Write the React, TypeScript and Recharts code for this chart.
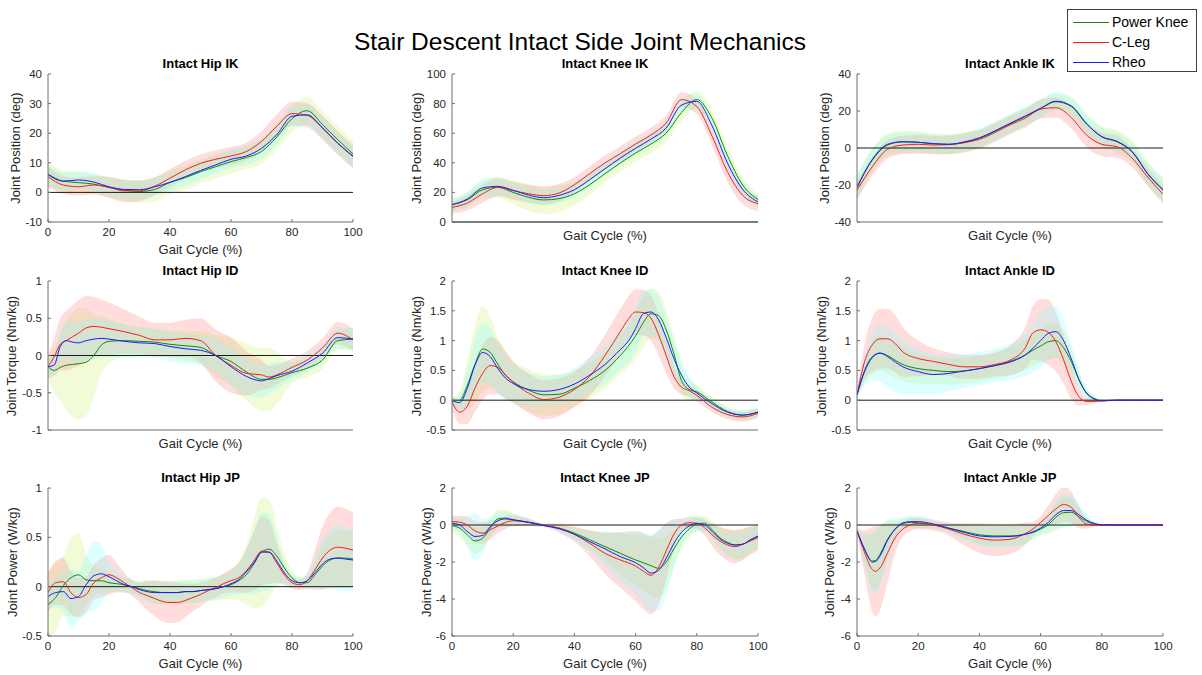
import React from 'react';
import { ComposedChart, Line, Area, XAxis, YAxis, ReferenceLine } from 'recharts';

// ---------- shared ----------
const SERIES_NAMES = ['Power Knee', 'C-Leg', 'Rheo'];
const GAIT_TICKS = [0, 20, 40, 60, 80, 100];
const MAIN_TITLE = 'Stair Descent Intact Side Joint Mechanics';

// ---------- Intact Hip IK ----------
const hipIK_x = [0, 5, 10, 15, 20, 25, 30, 35, 40, 45, 50, 55, 60, 65, 70, 75, 80, 85, 90, 95, 100];
const hipIK_pk = [6.2, 3.8, 3.3, 2.8, 1.7, 0.8, 0.3, 1.0, 3.4, 5.0, 7.0, 8.7, 10.4, 11.8, 13.8, 18.7, 24.9, 27.6, 22.9, 17.8, 13.0];
const hipIK_cl = [5.3, 2.5, 1.9, 2.5, 1.7, 0.5, 0.5, 2.1, 4.8, 7.6, 9.8, 11.2, 12.3, 13.8, 17.2, 22.3, 26.6, 26.0, 21.8, 16.6, 12.1];
const hipIK_rh = [6.0, 3.8, 4.2, 3.5, 1.9, 1.0, 0.9, 1.9, 3.4, 5.3, 7.4, 9.3, 11.2, 12.3, 14.9, 19.5, 25.7, 26.2, 21.8, 16.6, 12.3];
const hipIK_pkSd = [4, 3.5, 3.5, 3.5, 3.5, 3.5, 3.8, 4, 4, 4, 4, 4, 4, 4, 4.2, 4.5, 4.5, 4.5, 4.5, 4.5, 4.5];
const hipIK_clSd = [3.5, 3, 3, 3, 3.5, 3.8, 3.5, 3, 3, 3, 3, 3, 3, 3, 3.5, 4, 4, 4, 4, 4, 4];
const hipIK_rhSd = [3.5, 3, 3, 3, 3, 3, 3, 3, 3, 3, 3, 3, 3, 3, 3.5, 3.5, 3.5, 3.5, 3.5, 3.5, 3.5];
const hipIK_yTicks = [-10, 0, 10, 20, 30, 40];

// ---------- Intact Knee IK ----------
const kneeIK_x = [0, 5, 10, 15, 20, 25, 30, 35, 40, 45, 50, 55, 60, 65, 70, 75, 80, 85, 90, 95, 100];
const kneeIK_pk = [11.7, 15.0, 21.8, 23.4, 20.0, 16.7, 14.9, 15.8, 19.1, 25.2, 32.7, 39.9, 46.6, 52.7, 60.1, 74.0, 82.7, 70.0, 45.0, 25.0, 15.1];
const kneeIK_cl = [9.9, 12.8, 19.1, 23.4, 21.2, 19.1, 17.8, 19.6, 25.2, 32.7, 39.9, 46.2, 52.7, 58.8, 66.9, 82.7, 78.0, 58.0, 34.0, 18.0, 12.4];
const kneeIK_rh = [11.7, 15.5, 23.0, 24.1, 21.4, 18.2, 16.4, 18.0, 21.8, 28.6, 36.0, 43.2, 49.8, 56.0, 63.5, 79.0, 81.5, 65.0, 40.0, 22.0, 13.5];
const kneeIK_pkSd = [4, 5, 6, 7, 8, 9, 9.5, 9, 8, 7, 6, 6, 6, 6, 6, 6, 6, 6, 6, 5, 4];
const kneeIK_clSd = [4, 5, 6, 6, 6, 6, 6, 6, 5, 5, 5, 5, 5, 5, 5, 5, 5, 6, 7, 6, 5];
const kneeIK_rhSd = [4, 5, 6, 6, 5, 5, 5, 5, 5, 5, 5, 5, 5, 5, 5, 5, 5, 5, 5, 5, 4];
const kneeIK_yTicks = [0, 20, 40, 60, 80, 100];

// ---------- Intact Ankle IK ----------
const ankleIK_x = [0, 5, 10, 15, 20, 25, 30, 35, 40, 45, 50, 55, 60, 65, 70, 75, 80, 85, 90, 95, 100];
const ankleIK_pk = [-21.0, -6.5, 1.6, 3.3, 3.1, 2.2, 2.0, 2.9, 5.2, 8.9, 13.0, 17.0, 21.2, 25.0, 22.5, 13.0, 6.2, 3.6, -2.0, -13.8, -22.4];
const ankleIK_cl = [-22.8, -10.1, -0.7, 1.6, 2.0, 1.6, 1.8, 2.9, 4.7, 8.3, 12.5, 16.1, 21.0, 21.8, 16.5, 7.0, 2.0, 0.7, -5.6, -15.7, -25.0];
const ankleIK_rh = [-21.4, -6.2, 2.0, 3.4, 3.1, 2.4, 2.0, 3.3, 5.5, 9.2, 13.3, 17.3, 21.5, 25.3, 22.8, 13.3, 6.0, 3.4, -2.3, -14.0, -22.8];
const ankleIK_pkSd = [6, 6, 6, 6, 6, 5.5, 5.5, 5.5, 5, 5, 5, 5, 5, 4.5, 4.5, 5, 5.5, 6, 6, 6, 6];
const ankleIK_clSd = [5, 5, 5, 5, 5, 5, 5, 5, 5, 5, 5, 5, 5, 5.5, 6, 6.5, 6.5, 6, 5, 5, 5];
const ankleIK_rhSd = [7, 6, 5, 5, 5, 5, 5, 5, 5, 5, 5, 5, 5, 5, 5, 5, 5, 5, 5, 6, 7];
const ankleIK_yTicks = [-40, -20, 0, 20, 40];

// ---------- Intact Hip ID ----------
const hipID_x = [0, 2, 4, 6, 8, 10, 12.5, 15, 17.5, 20, 25, 30, 35, 40, 45, 50, 55, 60, 65, 70, 72.5, 75, 80, 85, 90, 95, 100];
const hipID_pk = [-0.15, -0.2, -0.16, -0.13, -0.12, -0.11, -0.09, 0.0, 0.14, 0.19, 0.2, 0.19, 0.18, 0.15, 0.13, 0.11, 0.0, -0.08, -0.22, -0.32, -0.32, -0.3, -0.23, -0.17, -0.06, 0.2, 0.22];
const hipID_cl = [-0.15, -0.02, 0.15, 0.2, 0.25, 0.3, 0.37, 0.39, 0.38, 0.36, 0.32, 0.27, 0.21, 0.21, 0.23, 0.2, 0.0, -0.13, -0.24, -0.26, -0.29, -0.26, -0.16, -0.06, 0.1, 0.3, 0.21];
const hipID_rh = [-0.15, -0.13, 0.12, 0.2, 0.18, 0.17, 0.2, 0.22, 0.23, 0.22, 0.19, 0.17, 0.16, 0.12, 0.09, 0.07, 0.0, -0.15, -0.28, -0.34, -0.31, -0.27, -0.21, -0.1, 0.03, 0.24, 0.22];
const hipID_pkSd = [0.15, 0.3, 0.45, 0.6, 0.7, 0.75, 0.72, 0.55, 0.38, 0.3, 0.22, 0.2, 0.18, 0.18, 0.2, 0.22, 0.28, 0.33, 0.38, 0.42, 0.42, 0.35, 0.15, 0.12, 0.12, 0.12, 0.15];
const hipID_clSd = [0.15, 0.25, 0.35, 0.4, 0.42, 0.44, 0.43, 0.4, 0.37, 0.35, 0.3, 0.25, 0.23, 0.23, 0.25, 0.3, 0.35, 0.37, 0.3, 0.2, 0.15, 0.13, 0.12, 0.12, 0.13, 0.15, 0.15];
const hipID_rhSd = [0.12, 0.15, 0.2, 0.25, 0.27, 0.28, 0.28, 0.27, 0.26, 0.25, 0.22, 0.2, 0.2, 0.2, 0.2, 0.2, 0.22, 0.25, 0.25, 0.22, 0.2, 0.18, 0.12, 0.12, 0.12, 0.14, 0.15];
const hipID_yTicks = [-1, -0.5, 0, 0.5, 1];

// ---------- Intact Knee ID ----------
const kneeID_x = [0, 2.5, 5, 7.5, 10, 12.5, 15, 17.5, 20, 25, 30, 35, 40, 45, 50, 55, 57.5, 60, 62.5, 65, 67.5, 70, 72.5, 75, 77.5, 80, 85, 90, 95, 100];
const kneeID_pk = [-0.01, 0.0, 0.25, 0.6, 0.86, 0.8, 0.6, 0.42, 0.31, 0.17, 0.09, 0.1, 0.2, 0.33, 0.5, 0.75, 0.9, 1.08, 1.3, 1.45, 1.42, 1.18, 0.78, 0.33, 0.18, 0.14, -0.03, -0.19, -0.25, -0.2];
const kneeID_cl = [-0.03, -0.2, -0.1, 0.2, 0.45, 0.58, 0.55, 0.42, 0.3, 0.12, 0.01, 0.05, 0.18, 0.4, 0.75, 1.15, 1.35, 1.48, 1.47, 1.38, 1.1, 0.75, 0.4, 0.22, 0.16, 0.08, -0.12, -0.24, -0.28, -0.22];
const kneeID_rh = [-0.01, -0.04, 0.2, 0.59, 0.8, 0.73, 0.53, 0.37, 0.28, 0.18, 0.15, 0.18, 0.27, 0.42, 0.6, 0.85, 0.98, 1.2, 1.45, 1.48, 1.35, 1.05, 0.7, 0.42, 0.22, 0.12, -0.06, -0.2, -0.25, -0.2];
const kneeID_pkSd = [0.05, 0.15, 0.4, 0.65, 0.72, 0.6, 0.45, 0.38, 0.35, 0.35, 0.35, 0.33, 0.3, 0.3, 0.3, 0.32, 0.35, 0.38, 0.42, 0.42, 0.4, 0.35, 0.3, 0.25, 0.18, 0.12, 0.08, 0.08, 0.08, 0.08];
const kneeID_clSd = [0.1, 0.2, 0.3, 0.4, 0.45, 0.48, 0.45, 0.4, 0.35, 0.33, 0.33, 0.32, 0.3, 0.32, 0.35, 0.38, 0.38, 0.38, 0.38, 0.38, 0.35, 0.3, 0.2, 0.12, 0.1, 0.1, 0.08, 0.08, 0.08, 0.08];
const kneeID_rhSd = [0.05, 0.12, 0.3, 0.45, 0.5, 0.48, 0.42, 0.36, 0.32, 0.28, 0.25, 0.25, 0.27, 0.3, 0.32, 0.33, 0.35, 0.38, 0.38, 0.38, 0.38, 0.35, 0.3, 0.25, 0.18, 0.12, 0.08, 0.08, 0.08, 0.08];
const kneeID_yTicks = [-0.5, 0, 0.5, 1, 1.5, 2];

// ---------- Intact Ankle ID ----------
const ankleID_x = [0, 2.5, 5, 7.5, 10, 12.5, 15, 20, 25, 30, 35, 40, 45, 50, 55, 57.5, 60, 62.5, 65, 67.5, 70, 72.5, 75, 77.5, 80, 85, 90, 95, 100];
const ankleID_pk = [0.09, 0.48, 0.71, 0.79, 0.75, 0.67, 0.6, 0.53, 0.5, 0.48, 0.49, 0.53, 0.58, 0.65, 0.76, 0.84, 0.91, 0.98, 1.0, 0.88, 0.65, 0.35, 0.12, 0.03, -0.01, 0, 0, 0, 0];
const ankleID_cl = [0.09, 0.65, 0.93, 1.03, 1.03, 0.95, 0.81, 0.7, 0.65, 0.6, 0.56, 0.56, 0.6, 0.67, 0.88, 1.13, 1.18, 1.14, 0.98, 0.68, 0.32, 0.06, -0.02, -0.02, -0.01, 0, 0, 0, 0];
const ankleID_rh = [0.09, 0.5, 0.73, 0.79, 0.73, 0.64, 0.56, 0.48, 0.43, 0.45, 0.49, 0.53, 0.58, 0.64, 0.76, 0.87, 1.0, 1.12, 1.15, 1.0, 0.7, 0.35, 0.12, 0.02, -0.01, 0, 0, 0, 0];
const ankleID_pkSd = [0.05, 0.2, 0.28, 0.3, 0.3, 0.3, 0.28, 0.25, 0.23, 0.22, 0.22, 0.22, 0.22, 0.23, 0.25, 0.27, 0.28, 0.3, 0.3, 0.28, 0.22, 0.15, 0.08, 0.04, 0.02, 0.01, 0.01, 0.01, 0.01];
const ankleID_clSd = [0.05, 0.3, 0.45, 0.5, 0.5, 0.48, 0.42, 0.3, 0.22, 0.2, 0.2, 0.2, 0.2, 0.25, 0.35, 0.45, 0.52, 0.55, 0.5, 0.4, 0.3, 0.15, 0.06, 0.03, 0.02, 0.01, 0.01, 0.01, 0.01];
const ankleID_rhSd = [0.05, 0.25, 0.4, 0.48, 0.5, 0.5, 0.45, 0.38, 0.33, 0.3, 0.28, 0.28, 0.28, 0.3, 0.35, 0.4, 0.45, 0.45, 0.42, 0.35, 0.25, 0.15, 0.08, 0.04, 0.02, 0.01, 0.01, 0.01, 0.01];
const ankleID_yTicks = [-0.5, 0, 0.5, 1, 1.5, 2];

// ---------- Intact Hip JP ----------
const hipJP_x = [0, 2.5, 5, 7.5, 10, 12.5, 15, 17.5, 20, 22.5, 25, 27.5, 30, 32.5, 35, 37.5, 40, 42.5, 45, 47.5, 50, 52.5, 55, 57.5, 60, 62.5, 65, 67.5, 70, 72.5, 75, 77.5, 80, 82.5, 85, 87.5, 90, 92.5, 95, 97.5, 100];
const hipJP_pk = [-0.18, -0.11, 0.01, 0.09, 0.12, 0.07, 0.06, 0.06, 0.04, 0.03, 0.02, 0.0, -0.02, -0.04, -0.05, -0.06, -0.06, -0.06, -0.05, -0.05, -0.04, -0.03, -0.02, 0.0, 0.02, 0.06, 0.12, 0.23, 0.35, 0.38, 0.31, 0.19, 0.09, 0.04, 0.04, 0.12, 0.21, 0.27, 0.29, 0.29, 0.28];
const hipJP_cl = [-0.06, 0.04, 0.05, -0.06, -0.11, -0.08, 0.04, 0.09, 0.12, 0.09, 0.04, -0.01, -0.06, -0.09, -0.12, -0.15, -0.16, -0.16, -0.14, -0.11, -0.08, -0.04, -0.01, 0.03, 0.06, 0.09, 0.16, 0.26, 0.36, 0.35, 0.24, 0.12, 0.04, 0.02, 0.06, 0.17, 0.29, 0.37, 0.4, 0.39, 0.37];
const hipJP_rh = [-0.1, -0.06, -0.05, -0.12, -0.1, 0.02, 0.11, 0.13, 0.1, 0.06, 0.02, 0.0, -0.03, -0.05, -0.06, -0.06, -0.06, -0.06, -0.05, -0.05, -0.04, -0.03, -0.02, 0.0, 0.03, 0.07, 0.15, 0.24, 0.35, 0.35, 0.26, 0.14, 0.06, 0.04, 0.06, 0.14, 0.23, 0.28, 0.29, 0.28, 0.27];
const hipJP_pkSd = [0.33, 0.35, 0.3, 0.4, 0.42, 0.25, 0.15, 0.12, 0.1, 0.08, 0.07, 0.07, 0.08, 0.1, 0.12, 0.12, 0.12, 0.12, 0.12, 0.12, 0.12, 0.12, 0.12, 0.13, 0.15, 0.2, 0.3, 0.45, 0.55, 0.5, 0.3, 0.15, 0.08, 0.06, 0.06, 0.12, 0.2, 0.25, 0.28, 0.28, 0.28];
const hipJP_clSd = [0.2, 0.22, 0.24, 0.22, 0.2, 0.18, 0.18, 0.2, 0.2, 0.15, 0.1, 0.08, 0.1, 0.15, 0.18, 0.2, 0.21, 0.2, 0.17, 0.14, 0.12, 0.1, 0.1, 0.1, 0.12, 0.15, 0.22, 0.3, 0.35, 0.32, 0.2, 0.1, 0.06, 0.05, 0.08, 0.2, 0.32, 0.38, 0.41, 0.4, 0.38];
const hipJP_rhSd = [0.12, 0.15, 0.2, 0.3, 0.25, 0.3, 0.35, 0.3, 0.15, 0.1, 0.08, 0.07, 0.08, 0.1, 0.11, 0.11, 0.11, 0.11, 0.11, 0.11, 0.11, 0.11, 0.11, 0.11, 0.12, 0.15, 0.22, 0.32, 0.4, 0.38, 0.25, 0.12, 0.06, 0.05, 0.07, 0.15, 0.25, 0.3, 0.33, 0.33, 0.3];
const hipJP_yTicks = [-0.5, 0, 0.5, 1];

// ---------- Intact Knee JP ----------
const kneeJP_x = [0, 2.5, 5, 7.5, 10, 12.5, 15, 17.5, 20, 25, 30, 35, 40, 45, 50, 55, 60, 62.5, 65, 67.5, 70, 72.5, 75, 77.5, 80, 82.5, 85, 87.5, 90, 92.5, 95, 97.5, 100];
const kneeJP_pk = [-0.03, -0.17, -0.53, -0.86, -0.72, -0.17, 0.33, 0.37, 0.28, 0.14, -0.03, -0.17, -0.44, -0.8, -1.17, -1.53, -1.89, -2.04, -2.2, -2.34, -2.0, -1.3, -0.65, -0.22, 0.05, 0.1, -0.26, -0.68, -0.93, -1.08, -1.04, -0.8, -0.59];
const kneeJP_cl = [0.19, 0.15, 0.0, -0.32, -0.44, -0.26, -0.05, 0.14, 0.23, 0.15, 0.0, -0.17, -0.5, -0.99, -1.53, -1.89, -2.22, -2.49, -2.72, -2.3, -1.4, -0.5, 0.0, 0.12, 0.1, -0.14, -0.53, -0.86, -1.08, -1.17, -1.04, -0.86, -0.68];
const kneeJP_rh = [0.1, 0.0, -0.35, -0.62, -0.57, -0.08, 0.23, 0.33, 0.28, 0.15, -0.03, -0.2, -0.5, -0.9, -1.29, -1.71, -2.04, -2.3, -2.6, -2.45, -1.8, -1.0, -0.4, -0.05, 0.08, 0.0, -0.35, -0.75, -0.99, -1.08, -1.04, -0.8, -0.62];
const kneeJP_pkSd = [0.4, 0.5, 0.6, 0.7, 0.6, 0.5, 0.5, 0.45, 0.35, 0.2, 0.08, 0.15, 0.3, 0.5, 0.8, 1.1, 1.35, 1.5, 1.6, 1.6, 1.4, 1.0, 0.6, 0.45, 0.4, 0.4, 0.45, 0.6, 0.7, 0.8, 0.8, 0.75, 0.7];
const kneeJP_clSd = [0.3, 0.35, 0.45, 0.55, 0.6, 0.5, 0.4, 0.35, 0.3, 0.2, 0.08, 0.25, 0.4, 0.7, 1.1, 1.5, 1.9, 2.05, 2.1, 2.0, 1.5, 0.8, 0.35, 0.3, 0.3, 0.4, 0.6, 0.75, 0.85, 0.9, 0.85, 0.75, 0.7];
const kneeJP_rhSd = [0.3, 0.4, 0.8, 1.3, 0.9, 0.5, 0.45, 0.4, 0.3, 0.2, 0.08, 0.15, 0.3, 0.55, 0.9, 1.3, 1.7, 1.9, 2.1, 2.2, 1.9, 1.3, 0.7, 0.5, 0.4, 0.35, 0.4, 0.5, 0.6, 0.7, 0.7, 0.6, 0.55];
const kneeJP_yTicks = [-6, -4, -2, 0, 2];

// ---------- Intact Ankle JP ----------
const ankleJP_x = [0, 2.5, 5, 6, 7.5, 10, 12.5, 15, 17.5, 20, 25, 30, 35, 40, 45, 50, 55, 57.5, 60, 62.5, 65, 67.5, 70, 72.5, 75, 77.5, 80, 85, 90, 95, 100];
const ankleJP_pk = [-0.31, -1.32, -1.95, -1.93, -1.59, -0.77, -0.22, 0.09, 0.14, 0.12, 0.01, -0.17, -0.35, -0.53, -0.59, -0.59, -0.5, -0.4, -0.22, 0.01, 0.42, 0.67, 0.69, 0.45, 0.2, 0.05, 0.01, 0, 0, 0, 0];
const ankleJP_cl = [-0.31, -1.5, -2.41, -2.5, -2.32, -1.5, -0.68, -0.22, 0.01, 0.09, 0, -0.22, -0.5, -0.71, -0.82, -0.77, -0.46, -0.22, 0.14, 0.51, 0.87, 1.11, 0.96, 0.42, 0.05, 0, 0, 0, 0, 0, 0];
const ankleJP_rh = [-0.31, -1.32, -2.0, -1.98, -1.68, -0.82, -0.22, 0.11, 0.18, 0.18, 0.05, -0.17, -0.4, -0.59, -0.64, -0.62, -0.5, -0.37, -0.17, 0.14, 0.56, 0.78, 0.78, 0.56, 0.27, 0.09, 0.01, 0, 0, 0, 0];
const ankleJP_pkSd = [0.1, 0.8, 1.5, 1.6, 1.5, 1.0, 0.5, 0.3, 0.3, 0.3, 0.2, 0.2, 0.35, 0.5, 0.55, 0.55, 0.5, 0.4, 0.35, 0.5, 0.7, 0.8, 0.75, 0.5, 0.25, 0.1, 0.05, 0.02, 0.02, 0.02, 0.02];
const ankleJP_clSd = [0.15, 1.2, 2.3, 2.45, 2.3, 1.6, 0.8, 0.4, 0.35, 0.3, 0.3, 0.35, 0.6, 0.8, 0.85, 0.8, 0.6, 0.4, 0.35, 0.55, 0.8, 0.95, 0.85, 0.6, 0.25, 0.1, 0.05, 0.02, 0.02, 0.02, 0.02];
const ankleJP_rhSd = [0.1, 0.8, 1.6, 1.7, 1.6, 1.1, 0.55, 0.3, 0.3, 0.3, 0.2, 0.25, 0.4, 0.55, 0.6, 0.6, 0.5, 0.4, 0.35, 0.5, 0.75, 0.9, 0.85, 0.55, 0.3, 0.12, 0.05, 0.02, 0.02, 0.02, 0.02];
const ankleJP_yTicks = [-6, -4, -2, 0, 2];

// ---------- panel table (built from the arrays above) ----------
const PANELS = [
  { title: 'Intact Hip IK', x: hipIK_x, pk: hipIK_pk, cl: hipIK_cl, rh: hipIK_rh, pkSd: hipIK_pkSd, clSd: hipIK_clSd, rhSd: hipIK_rhSd, yTicks: hipIK_yTicks, yLabel: 'Joint Position (deg)', showX: true },
  { title: 'Intact Knee IK', x: kneeIK_x, pk: kneeIK_pk, cl: kneeIK_cl, rh: kneeIK_rh, pkSd: kneeIK_pkSd, clSd: kneeIK_clSd, rhSd: kneeIK_rhSd, yTicks: kneeIK_yTicks, yLabel: 'Joint Position (deg)', showX: false },
  { title: 'Intact Ankle IK', x: ankleIK_x, pk: ankleIK_pk, cl: ankleIK_cl, rh: ankleIK_rh, pkSd: ankleIK_pkSd, clSd: ankleIK_clSd, rhSd: ankleIK_rhSd, yTicks: ankleIK_yTicks, yLabel: 'Joint Position (deg)', showX: false },
  { title: 'Intact Hip ID', x: hipID_x, pk: hipID_pk, cl: hipID_cl, rh: hipID_rh, pkSd: hipID_pkSd, clSd: hipID_clSd, rhSd: hipID_rhSd, yTicks: hipID_yTicks, yLabel: 'Joint Torque (Nm/kg)', showX: false },
  { title: 'Intact Knee ID', x: kneeID_x, pk: kneeID_pk, cl: kneeID_cl, rh: kneeID_rh, pkSd: kneeID_pkSd, clSd: kneeID_clSd, rhSd: kneeID_rhSd, yTicks: kneeID_yTicks, yLabel: 'Joint Torque (Nm/kg)', showX: false },
  { title: 'Intact Ankle ID', x: ankleID_x, pk: ankleID_pk, cl: ankleID_cl, rh: ankleID_rh, pkSd: ankleID_pkSd, clSd: ankleID_clSd, rhSd: ankleID_rhSd, yTicks: ankleID_yTicks, yLabel: 'Joint Torque (Nm/kg)', showX: false },
  { title: 'Intact Hip JP', x: hipJP_x, pk: hipJP_pk, cl: hipJP_cl, rh: hipJP_rh, pkSd: hipJP_pkSd, clSd: hipJP_clSd, rhSd: hipJP_rhSd, yTicks: hipJP_yTicks, yLabel: 'Joint Power (W/kg)', showX: true },
  { title: 'Intact Knee JP', x: kneeJP_x, pk: kneeJP_pk, cl: kneeJP_cl, rh: kneeJP_rh, pkSd: kneeJP_pkSd, clSd: kneeJP_clSd, rhSd: kneeJP_rhSd, yTicks: kneeJP_yTicks, yLabel: 'Joint Power (W/kg)', showX: true },
  { title: 'Intact Ankle JP', x: ankleJP_x, pk: ankleJP_pk, cl: ankleJP_cl, rh: ankleJP_rh, pkSd: ankleJP_pkSd, clSd: ankleJP_clSd, rhSd: ankleJP_rhSd, yTicks: ankleJP_yTicks, yLabel: 'Joint Power (W/kg)', showX: true },
];

// ---------- layout / style ----------
const FONT = '"Liberation Sans", Arial, Helvetica, sans-serif';
const TEXT = '#262626';
const AXIS = '#6e6e6e';
const COLORS = { pk: '#0b8a0b', cl: '#ff1a1a', rh: '#1a1aff' };
const BANDS = { pk: '#c8f064', cl: '#ff7878', rh: '#78ffff' };
const COL_L = [48, 452, 857];
const COL_R = [353, 758, 1163];
const ROW_T = [74, 281, 488];
const ROW_B = [222, 430, 636];
const YLABEL_GAP = [32, 35, 32, 36, 35, 35, 35, 25, 27];

function Panel({ cfg, idx }: { cfg: any; idx: number }) {
  const col = idx % 3;
  const row = Math.floor(idx / 3);
  const L = COL_L[col], R = COL_R[col], T = ROW_T[row], B = ROW_B[row];
  const w = R - L, h = B - T;
  const data = cfg.x.map((x: number, i: number) => ({
    x,
    pk: cfg.pk[i],
    cl: cfg.cl[i],
    rh: cfg.rh[i],
    pkBand: [cfg.pk[i] - cfg.pkSd[i], cfg.pk[i] + cfg.pkSd[i]],
    clBand: [cfg.cl[i] - cfg.clSd[i], cfg.cl[i] + cfg.clSd[i]],
    rhBand: [cfg.rh[i] - cfg.rhSd[i], cfg.rh[i] + cfg.rhSd[i]],
  }));
  const yDomain = [cfg.yTicks[0], cfg.yTicks[cfg.yTicks.length - 1]];
  const tickStyle = { fontSize: 11.5, fill: TEXT, fontFamily: FONT };
  const chartW = w + 70;
  const chartH = h + 45;
  return (
    <>
      <div style={{ position: 'absolute', left: L - 60, top: T - 5, width: chartW, height: chartH }}>
        <ComposedChart width={chartW} height={chartH} data={data} margin={{ top: 5, right: 10, bottom: 0, left: 10 }}>
          <XAxis
            dataKey="x"
            type="number"
            domain={[0, 100]}
            ticks={cfg.showX ? GAIT_TICKS : []}
            height={40}
            axisLine={{ stroke: AXIS }}
            tickLine={cfg.showX ? { stroke: AXIS } : false}
            tickSize={-3}
            tickMargin={9}
            tick={cfg.showX ? tickStyle : false}
            allowDataOverflow
          />
          <YAxis
            type="number"
            domain={yDomain}
            ticks={cfg.yTicks}
            width={50}
            axisLine={{ stroke: AXIS }}
            tickLine={{ stroke: AXIS }}
            tickSize={-3}
            tickMargin={9}
            tick={tickStyle}
            allowDataOverflow
            interval={0}
          />
          <Area type="monotone" dataKey="pkBand" stroke="none" fill={BANDS.pk} fillOpacity={0.25} isAnimationActive={false} activeDot={false} />
          <Area type="monotone" dataKey="clBand" stroke="none" fill={BANDS.cl} fillOpacity={0.25} isAnimationActive={false} activeDot={false} />
          <Area type="monotone" dataKey="rhBand" stroke="none" fill={BANDS.rh} fillOpacity={0.25} isAnimationActive={false} activeDot={false} />
          <ReferenceLine y={0} stroke="#1a1a1a" strokeWidth={1} />
          <Line type="monotone" dataKey="pk" name={SERIES_NAMES[0]} stroke={COLORS.pk} strokeWidth={1} dot={false} activeDot={false} isAnimationActive={false} />
          <Line type="monotone" dataKey="cl" name={SERIES_NAMES[1]} stroke={COLORS.cl} strokeWidth={1} dot={false} activeDot={false} isAnimationActive={false} />
          <Line type="monotone" dataKey="rh" name={SERIES_NAMES[2]} stroke={COLORS.rh} strokeWidth={1} dot={false} activeDot={false} isAnimationActive={false} />
        </ComposedChart>
      </div>
      {/* subplot title */}
      <div style={{ position: 'absolute', left: (L + R) / 2 - 150, width: 300, top: T - 18, height: 16, lineHeight: '16px', textAlign: 'center', fontSize: 13, fontWeight: 'bold', color: '#000', fontFamily: FONT }}>
        {cfg.title}
      </div>
      {/* x label */}
      <div style={{ position: 'absolute', left: (L + R) / 2 - 100, width: 200, top: B + (cfg.showX ? 28 : 14) - 8, height: 16, lineHeight: '16px', textAlign: 'center', fontSize: 13, color: TEXT, fontFamily: FONT }}>
        Gait Cycle (%)
      </div>
      {/* y label */}
      <div style={{ position: 'absolute', left: L - YLABEL_GAP[idx] - 100, width: 200, top: (T + B) / 2 - 8, height: 16, lineHeight: '16px', textAlign: 'center', fontSize: 13, color: TEXT, fontFamily: FONT, transform: 'rotate(-90deg)' }}>
        {cfg.yLabel}
      </div>
    </>
  );
}

function Legend() {
  const keys = ['pk', 'cl', 'rh'];
  return (
    <div style={{ position: 'absolute', left: 1067, top: 9, width: 130, height: 63, border: '1px solid #404040', background: '#fff', boxSizing: 'border-box' }}>
      {keys.map((k, i) => (
        <div key={k} style={{ position: 'absolute', left: 0, top: 2 + i * 20, height: 20, width: 128 }}>
          <div style={{ position: 'absolute', left: 5, top: 10, width: 36, height: 0, borderTop: `1px solid ${(COLORS as any)[k]}` }} />
          <div style={{ position: 'absolute', left: 44, top: 0, height: 20, lineHeight: '20px', fontSize: 14, color: '#000', fontFamily: FONT, whiteSpace: 'nowrap' }}>
            {SERIES_NAMES[i]}
          </div>
        </div>
      ))}
    </div>
  );
}

export default function App() {
  return (
    <div style={{ position: 'absolute', left: 0, top: 0, width: 1202, height: 675, background: '#fff', fontFamily: FONT, overflow: 'hidden' }}>
      <div style={{ position: 'absolute', left: 330, width: 500, top: 28, height: 28, lineHeight: '28px', textAlign: 'center', fontSize: 24.5, color: '#000', fontFamily: FONT }}>
        {MAIN_TITLE}
      </div>
      {PANELS.map((cfg, i) => (
        <Panel key={cfg.title} cfg={cfg} idx={i} />
      ))}
      <Legend />
    </div>
  );
}
